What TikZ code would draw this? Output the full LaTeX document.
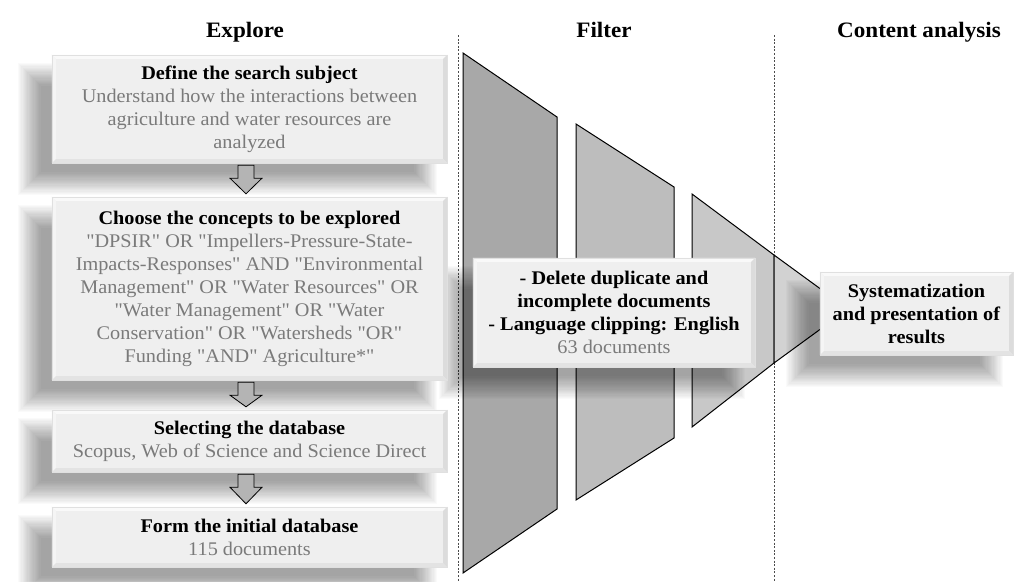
\documentclass[tikz,border=0pt]{standalone}
\usepackage{fontspec}
\setmainfont{Liberation Serif}[FakeStretch=1.05, Ligatures=TeXOff]
\usetikzlibrary{calc}
\definecolor{txtgray}{HTML}{7A7A7A}
\definecolor{boxfill}{HTML}{EFEFEF}
\definecolor{fa}{HTML}{A8A8A8}
\definecolor{fb}{HTML}{BDBDBD}
\definecolor{fc}{HTML}{C8C8C8}
\definecolor{fd}{HTML}{D2D2D2}
\definecolor{arrfill}{HTML}{B4B4B4}
\newcommand{\gr}[1]{\textcolor{txtgray}{#1}}
\pgfdeclarelayer{bg}
\pgfdeclarelayer{sh}
\pgfsetlayers{bg,sh,main}
\newcommand{\softshadow}[1]{%
  \foreach \i in {0,...,19}{%
    \fill[black,opacity=0.018] ($(#1.north west)+({-34+\i*1.2},{8+\i*1.2})$) rectangle ($(#1.south east)+({-10-\i*1.2},{32-\i*1.2})$);
  }}
\newcommand{\bevel}[1]{%
  \fill[white!60!boxfill] (#1.north west) -- (#1.north east) -- ($(#1.north east)+(-4,4)$) -- ($(#1.north west)+(4,4)$) -- cycle;
  \fill[white!40!boxfill] (#1.south west) -- (#1.north west) -- ($(#1.north west)+(4,4)$) -- ($(#1.south west)+(4,-4)$) -- cycle;
  \fill[black!8!boxfill] (#1.north east) -- (#1.south east) -- ($(#1.south east)+(-4,-4)$) -- ($(#1.north east)+(-4,4)$) -- cycle;
  \fill[black!5!boxfill] (#1.south east) -- (#1.south west) -- ($(#1.south west)+(4,-4)$) -- ($(#1.south east)+(-4,-4)$) -- cycle;
  \draw[black!12,line width=0.4pt] (#1.north west) rectangle (#1.south east);}
\newcommand{\blockdown}[2]{%
  \draw[fill=arrfill,line width=0.8pt,line join=miter]
    ($(#1.south)+(-11.5,2)$) -- ($(#1.south)+(4.5,2)$) -- ($(#1.south)+(4.5,15)$) -- ($(#1.south)+(12.5,15)$)
    -- ($(#2.north)+(-3.5,-3)$) -- ($(#1.south)+(-19.5,15)$) -- ($(#1.south)+(-11.5,15)$) -- cycle;}
\tikzset{
  box/.style={fill=boxfill, draw=none, align=center, inner sep=0pt,
    font=\fontsize{19.3}{23}\selectfont},
  title/.style={font=\fontsize{22}{26}\selectfont\bfseries, anchor=base},
  funnel/.style={draw=black,line width=1pt,line join=miter},
  sep/.style={draw=black!70,line width=0.6pt,dash pattern=on 2pt off 1.6pt}
}
\begin{document}
\begin{tikzpicture}[x=1pt,y=-1pt]
\useasboundingbox (0,0) rectangle (1019,581);
\begin{pgfonlayer}{bg}
\fill[white] (0,0) rectangle (1019,581);
\end{pgfonlayer}

% titles
\node[title] (tExplore) at (245,37) {Explore};
\node[title] (tFilter) at (604,37) {Filter};
\node[title] (tContent) at (919,37) {Content analysis};

% boxes
\node[box, minimum width=395pt, minimum height=108pt] (b1) at (249.5,109)
  {\textbf{Define the search subject}\\
   \gr{Understand how the interactions between}\\
   \gr{agriculture and water resources are}\\
   \gr{analyzed}};
\node[box, minimum width=395pt, minimum height=183pt] (b2) at (249.5,288.5)
  {\textbf{Choose the concepts to be explored}\\
   \gr{"DPSIR" OR "Impellers-Pressure-State-}\\
   \gr{Impacts-Responses" AND "Environmental}\\
   \gr{Management" OR "Water Resources" OR}\\
   \gr{"Water Management" OR "Water}\\
   \gr{Conservation" OR "Watersheds "OR"}\\
   \gr{Funding "AND" Agriculture*"}};
\node[box, minimum width=395pt, minimum height=62pt] (b3) at (249.5,441)
  {\textbf{Selecting the database}\\
   \gr{Scopus, Web of Science and Science Direct}};
\node[box, minimum width=395pt, minimum height=60pt] (b4) at (249.5,537)
  {\textbf{Form the initial database}\\
   \gr{115 documents}};
\node[box, minimum width=282pt, minimum height=109pt] (fbox) at (614,312.5)
  {\textbf{- Delete duplicate and}\\
   \textbf{incomplete documents}\\
   \textbf{- Language clipping: English}\\
   \gr{63 documents}};
\node[box, minimum width=193pt, minimum height=83pt] (sbox) at (916.5,313.5)
  {\textbf{Systematization}\\
   \textbf{and presentation of}\\
   \textbf{results}};

\bevel{b1}\bevel{b2}\bevel{b3}\bevel{b4}\bevel{fbox}\bevel{sbox}

% arrows between boxes
\blockdown{b1}{b2}
\blockdown{b2}{b3}
\blockdown{b3}{b4}

\begin{pgfonlayer}{sh}
  \softshadow{b1}\softshadow{b2}\softshadow{b3}\softshadow{b4}\softshadow{fbox}\softshadow{sbox}
\end{pgfonlayer}

\begin{pgfonlayer}{bg}
  \draw[sep] (458,35) -- (458,581);
  \draw[sep] (774,35) -- (774,581);
  \draw[funnel,fill=fa] (463,53) -- (557,117) -- (557,509) -- (463,573) -- cycle;
  \draw[funnel,fill=fb] (576,124) -- (674,187) -- (674,438) -- (576,500) -- cycle;
  \draw[funnel,fill=fc] (692,194) -- (774,255) -- (774,363) -- (692,427) -- cycle;
  \draw[funnel,fill=fd] (774,255) -- (848,309) -- (774,363) -- cycle;
\end{pgfonlayer}
\end{tikzpicture}
\end{document}
